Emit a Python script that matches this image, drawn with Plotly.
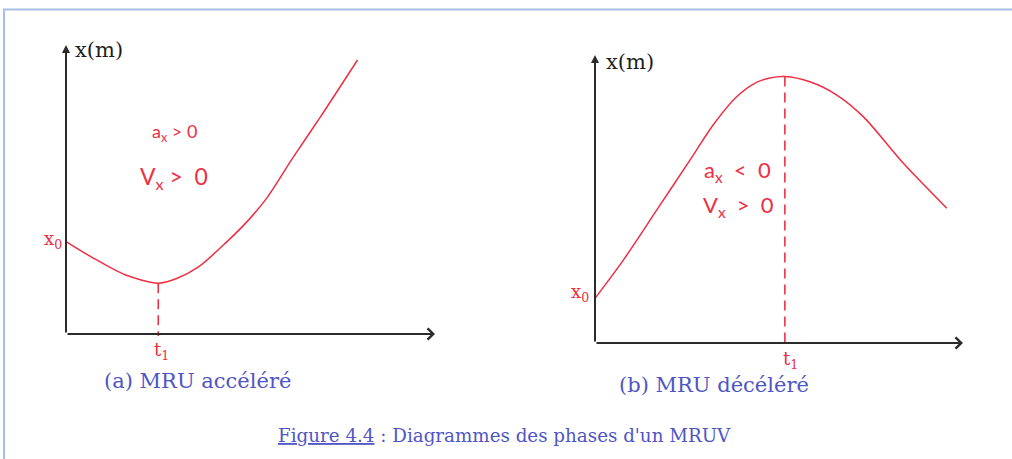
import plotly.graph_objects as go

# (a) accelerated motion: position x(t) with a minimum at t1
t_acc = [0.0, 0.75, 1.6, 2.5, 3.0, 3.6, 4.35, 4.9, 5.45, 6.15, 6.9, 7.9]
x_acc = [3.2, 2.62, 2.05, 1.76, 1.92, 2.33, 3.18, 3.88, 4.72, 6.1, 7.52, 9.48]
t1_acc = 2.5
x_t1_acc = 1.76

# (b) decelerated motion: position x(t) with a maximum at t1
t_dec = [0.0, 0.77, 1.68, 2.58, 3.21, 3.85, 4.39, 4.75, 5.16, 5.84, 6.57, 7.29, 8.38, 9.56]
x_dec = [1.55, 2.88, 4.62, 6.35, 7.57, 8.55, 9.05, 9.2, 9.25, 9.07, 8.61, 7.86, 6.24, 4.68]
t1_dec = 5.16
x_t1_dec = 9.25

RED = "#ee2e42"
AXIS = "#2b2b2b"
BLUE = "#4f55c4"
SERIF = "DejaVu Serif"
SANS = "Lato"
NB = "\u00a0"

W, H = 1012, 459
RANGE = [-1.5, 10.5]

fig = go.Figure()

fig.add_trace(go.Scatter(x=t_acc, y=x_acc, mode="lines",
                         line=dict(color=RED, width=1.5, shape="spline", smoothing=0.8),
                         xaxis="x", yaxis="y", showlegend=False, hoverinfo="skip"))
fig.add_trace(go.Scatter(x=[t1_acc, t1_acc], y=[x_t1_acc, -0.07], mode="lines",
                         line=dict(color=RED, width=1.6, dash="10px,6px"),
                         xaxis="x", yaxis="y", showlegend=False, hoverinfo="skip"))
fig.add_trace(go.Scatter(x=t_dec, y=x_dec, mode="lines",
                         line=dict(color=RED, width=1.5, shape="spline", smoothing=0.8),
                         xaxis="x2", yaxis="y2", showlegend=False, hoverinfo="skip"))
fig.add_trace(go.Scatter(x=[t1_dec, t1_dec], y=[x_t1_dec, -0.14], mode="lines",
                         line=dict(color=RED, width=1.6, dash="10px,6px"),
                         xaxis="x2", yaxis="y2", showlegend=False, hoverinfo="skip"))

annotations = []


def axis_arrows(xr, yr):
    # horizontal time axis with an open head, vertical position axis with a small filled head
    annotations.append(dict(x=10, y=0, ax=0, ay=0, xref=xr, yref=yr, axref=xr, ayref=yr, text="",
                            showarrow=True, arrowhead=4, arrowsize=1.1, arrowwidth=2, arrowcolor=AXIS))
    annotations.append(dict(x=0, y=10, ax=0, ay=0, xref=xr, yref=yr, axref=xr, ayref=yr, text="",
                            showarrow=True, arrowhead=2, arrowsize=0.8, arrowwidth=2, arrowcolor=AXIS))


def label(text, x, y, xr, yr, size, color, family, xanchor="center"):
    annotations.append(dict(text=text, x=x, y=y, xref=xr, yref=yr, showarrow=False, xanchor=xanchor,
                            yanchor="middle", font=dict(size=size, color=color, family=family)))


axis_arrows("x", "y")
axis_arrows("x2", "y2")

# panel (a) labels
label("x(m)", 0.2, 9.83, "x", "y", 21, "#1e1e1e", SERIF, "left")
label("x<sub>0</sub>", -0.06, 3.25, "x", "y", 18, RED, SERIF, "right")
label("t<sub>1</sub>", 2.6, -0.6, "x", "y", 18, RED, SERIF)
label(f"a<sub>x</sub>{NB}>{NB}0", 2.93, 6.96, "x", "y", 18, RED, SANS)
label(f"V<sub>x</sub>{NB}>{NB}{NB}0", 2.93, 5.43, "x", "y", 23, RED, SANS)

# panel (b) labels
label("x(m)", 0.25, 9.76, "x2", "y2", 21, "#1e1e1e", SERIF, "left")
label("x<sub>0</sub>", -0.1, 1.75, "x2", "y2", 18, RED, SERIF, "right")
label("t<sub>1</sub>", 5.3, -0.6, "x2", "y2", 18, RED, SERIF)
label(f"a<sub>x</sub>{NB}{NB}<{NB}{NB}0", 3.87, 5.96, "x2", "y2", 22, RED, SANS)
label(f"V<sub>x</sub>{NB}{NB}>{NB}{NB}0", 3.9, 4.75, "x2", "y2", 22, RED, SANS)

# captions
label("(a) MRU accéléré", 197 / W, 1 - 381 / H, "paper", "paper", 21, BLUE, SERIF)
label("(b) MRU décéléré", 714 / W, 1 - 385 / H, "paper", "paper", 21, BLUE, SERIF)
label("<u>Figure 4.4</u> : Diagrammes des phases d'un MRUV", 504 / W, 1 - 435 / H,
      "paper", "paper", 18.3, BLUE, SERIF)


def xdomain(px0, px_per_unit):
    return [(px0 + RANGE[0] * px_per_unit) / W, (px0 + RANGE[1] * px_per_unit) / W]


def ydomain(py0, px_per_unit):
    return [1 - (py0 - RANGE[0] * px_per_unit) / H, 1 - (py0 - RANGE[1] * px_per_unit) / H]


hidden = dict(visible=False, showgrid=False, zeroline=False, range=RANGE, fixedrange=True)

fig.update_layout(
    width=W, height=H,
    margin=dict(l=0, r=0, t=0, b=0),
    paper_bgcolor="white", plot_bgcolor="white",
    xaxis=dict(hidden, domain=xdomain(66, 36.9), anchor="y"),
    yaxis=dict(hidden, domain=ydomain(334, 28.9), anchor="x"),
    xaxis2=dict(hidden, domain=xdomain(595, 36.8), anchor="y2"),
    yaxis2=dict(hidden, domain=ydomain(343, 28.8), anchor="x2"),
    annotations=annotations,
    shapes=[
        dict(type="line", xref="paper", yref="paper", x0=3 / W, x1=1, y0=1 - 9.5 / H, y1=1 - 9.5 / H,
             line=dict(color="#a4bfe2", width=2)),
        dict(type="line", xref="paper", yref="paper", x0=4 / W, x1=4 / W, y0=0, y1=1 - 9 / H,
             line=dict(color="#a4bfe2", width=2)),
    ],
)

fig.write_html("out.html")
